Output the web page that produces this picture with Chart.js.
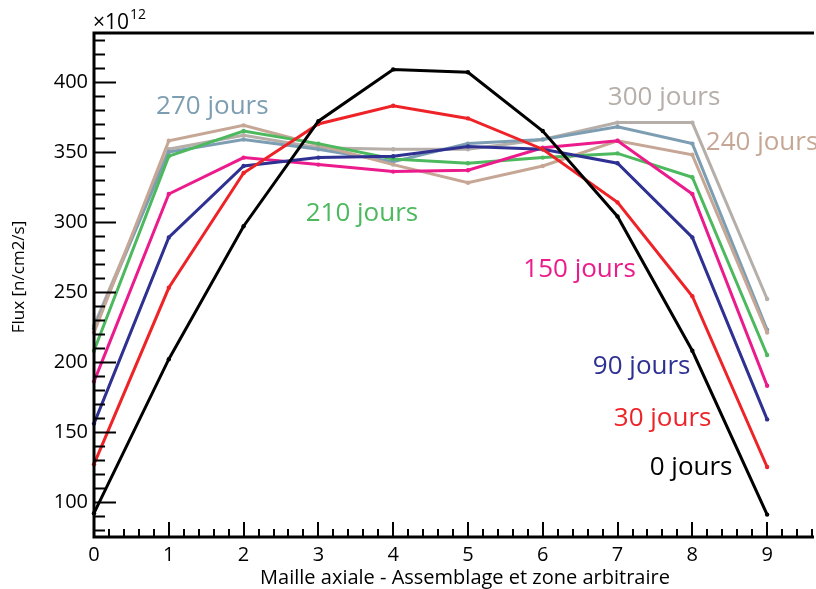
<!DOCTYPE html>
<html>
<head>
<meta charset="utf-8">
<script src="https://cdn.jsdelivr.net/npm/chart.js@4"></script>
<style>
  html, body { margin: 0; padding: 0; background: #fff; }
  #wrap { width: 816px; height: 589px; }
</style>
</head>
<body>
<div id="wrap"><canvas id="grafico"></canvas></div>
<script>
// maille axiale (abscisse) et flux par date d'irradiation (x10^12 n/cm2/s)
const maille = [0, 1, 2, 3, 4, 5, 6, 7, 8, 9];
const jours0   = [92, 202, 297, 372, 409, 407, 365, 304, 208, 91];
const jours30  = [127, 253, 335, 370, 383, 374, 352, 314, 247, 125];
const jours90  = [156, 289, 340, 346, 347, 354, 352, 342, 289, 159];
const jours150 = [186, 320, 346, 341, 336, 337, 353, 358, 320, 183];
const jours210 = [208, 347, 365, 356, 345, 342, 346, 349, 332, 205];
const jours240 = [221, 358, 369, 355, 341, 328, 340, 358, 348, 221];
const jours270 = [224, 350, 359, 352, 343, 356, 359, 368, 356, 223];
const jours300 = [226, 352, 362, 353, 352, 352, 359, 371, 371, 245];

const ticksX = [0, 1, 2, 3, 4, 5, 6, 7, 8, 9];
const ticksY = [100, 150, 200, 250, 300, 350, 400];

const POLICE = '"Open Sans", "Noto Sans", sans-serif';

// series : libellé, valeurs, couleur, position de l'étiquette (en coordonnées des axes)
const series = [
  { nom: '0 jours',   val: jours0,   coul: '#000000', etiq: [7.43, 119.5] },
  { nom: '30 jours',  val: jours30,  coul: '#ee2328', etiq: [6.95, 154] },
  { nom: '90 jours',  val: jours90,  coul: '#2e3192', etiq: [6.67, 191.6] },
  { nom: '150 jours', val: jours150, coul: '#ec1b8c', etiq: [5.74, 260.7] },
  { nom: '210 jours', val: jours210, coul: '#4cb95e', etiq: [2.83, 300.4] },
  { nom: '240 jours', val: jours240, coul: '#c6a796', etiq: [8.18, 351.6] },
  { nom: '270 jours', val: jours270, coul: '#7d9eb2', etiq: [0.83, 377.4] },
  { nom: '300 jours', val: jours300, coul: '#b6aea8', etiq: [6.87, 383.3] }
];

const datasets = series.map(s => ({
  label: s.nom,
  data: maille.map((m, i) => ({ x: m, y: s.val[i] })),
  borderColor: s.coul,
  backgroundColor: s.coul,
  borderWidth: 3,
  pointRadius: 2.2,
  pointBorderWidth: 0,
  pointBackgroundColor: s.coul,
  tension: 0,
  fill: false,
  clip: false
}));

// cadre, graduations tournées vers l'intérieur, titres et étiquettes
const decor = {
  id: 'decor',
  afterDraw(chart) {
    const ctx = chart.ctx;
    const a = chart.chartArea;
    const sx = chart.scales.x, sy = chart.scales.y;
    ctx.save();
    ctx.strokeStyle = '#000';
    ctx.lineCap = 'butt';

    // graduations Y : majeures tous les 50, mineures tous les 10
    ctx.lineWidth = 2;
    for (let v = 80; v <= 430; v += 10) {
      const y = Math.round(sy.getPixelForValue(v)) + 0.5;
      const len = (v % 50 === 0) ? 22 : 11;
      ctx.beginPath();
      ctx.moveTo(a.left, y);
      ctx.lineTo(a.left + len, y);
      ctx.stroke();
    }
    // graduations X : majeures toutes les unités, mineures tous les 0.2
    for (let k = 1; k <= 48; k++) {
      const v = k * 0.2;
      const x = Math.round(sx.getPixelForValue(v));
      const len = (k % 5 === 0) ? 15 : 8;
      ctx.beginPath();
      ctx.moveTo(x, a.bottom);
      ctx.lineTo(x, a.bottom - len);
      ctx.stroke();
    }

    // cadre : haut, gauche, bas
    ctx.lineWidth = 3;
    ctx.beginPath();
    ctx.moveTo(a.right + 2, a.top);
    ctx.lineTo(a.left, a.top);
    ctx.lineTo(a.left, a.bottom);
    ctx.lineTo(a.right + 2, a.bottom);
    ctx.stroke();

    // facteur d'échelle
    ctx.fillStyle = '#000';
    ctx.textBaseline = 'alphabetic';
    ctx.textAlign = 'left';
    ctx.font = '21px ' + POLICE;
    ctx.fillText('\u00d710', 93, 29);
    const w = ctx.measureText('\u00d710').width;
    ctx.font = '14px ' + POLICE;
    ctx.fillText('12', 93 + w + 1, 19);

    // titres des axes
    ctx.font = '20px ' + POLICE;
    ctx.textAlign = 'center';
    ctx.fillText('Maille axiale - Assemblage et zone arbitraire', 465, 584);
    ctx.save();
    ctx.translate(24, 277);
    ctx.rotate(-Math.PI / 2);
    ctx.font = '17px ' + POLICE;
    ctx.fillText('Flux [n/cm2/s]', 0, 0);
    ctx.restore();

    // étiquettes des courbes
    ctx.textAlign = 'left';
    ctx.font = '26px ' + POLICE;
    series.forEach(s => {
      ctx.fillStyle = s.coul;
      ctx.fillText(s.nom, sx.getPixelForValue(s.etiq[0]), sy.getPixelForValue(s.etiq[1]));
    });
    ctx.restore();
  }
};

new Chart(document.getElementById('grafico'), {
  type: 'line',
  data: { datasets },
  options: {
    responsive: true,
    maintainAspectRatio: false,
    animation: false,
    layout: { padding: { top: 33, right: 4, left: 0, bottom: 0 } },
    plugins: { legend: { display: false }, tooltip: { enabled: false } },
    scales: {
      x: {
        type: 'linear',
        min: 0, max: 9.6,
        afterBuildTicks: (s) => { s.ticks = ticksX.map(v => ({ value: v })); },
        afterFit: (s) => { s.height = 52; },
        grid: { display: false, drawTicks: false },
        border: { display: false },
        ticks: { color: '#000', padding: 6, maxRotation: 0, font: { family: POLICE, size: 20 } }
      },
      y: {
        type: 'linear',
        min: 75, max: 435,
        afterBuildTicks: (s) => { s.ticks = ticksY.map(v => ({ value: v })); },
        afterFit: (s) => { s.width = 94; },
        grid: { display: false, drawTicks: false },
        border: { display: false },
        ticks: { color: '#000', padding: 6, font: { family: POLICE, size: 20 } }
      }
    }
  },
  plugins: [decor]
});
</script>
</body>
</html>
